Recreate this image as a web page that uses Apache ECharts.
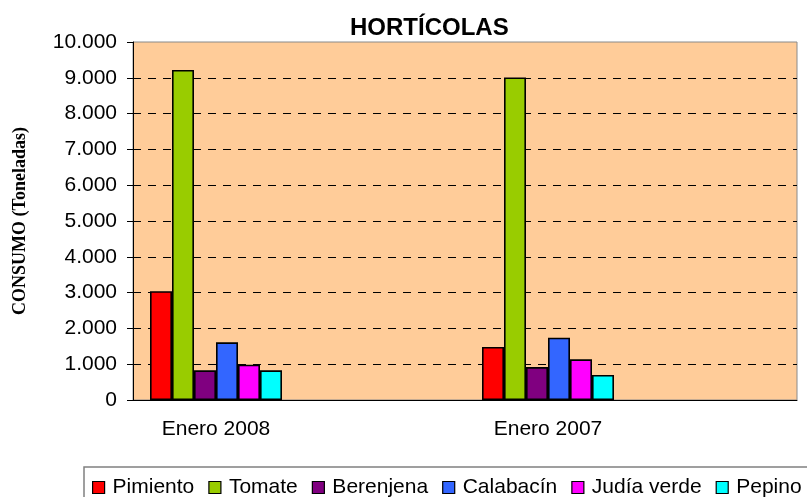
<!DOCTYPE html>
<html>
<head>
<meta charset="utf-8">
<script src="https://cdn.jsdelivr.net/npm/echarts@6/dist/echarts.min.js"></script>
<style>
html,body{margin:0;padding:0;background:#fff;}
#c{width:807px;height:497px;}
</style>
</head>
<body>
<div id="c"></div>
<script>
const categories = ['Enero 2008', 'Enero 2007'];
const seriesNames = ['Pimiento', 'Tomate', 'Berenjena', 'Calabacín', 'Judía verde', 'Pepino'];
const pimiento = [3040, 1480];
const tomate = [9220, 9010];
const berenjena = [830, 920];
const calabacin = [1610, 1740];
const judiaVerde = [985, 1135];
const pepino = [830, 700];
const seriesColors = ['#FF0000', '#99CC00', '#800080', '#3366FF', '#FF00FF', '#00FFFF'];

const allValues = [pimiento, tomate, berenjena, calabacin, judiaVerde, pepino];
// each category is followed by an empty slot (as in the original layout)
const axisCats = categories.flatMap(c => [c, '']);

function fmt(v) {
  return String(v).replace(/\B(?=(\d{3})+(?!\d))/g, '.');
}

const chart = echarts.init(document.getElementById('c'));
chart.setOption({
  animation: false,
  title: {
    text: 'HORTÍCOLAS',
    left: 345,
    top: 11,
    textStyle: {fontFamily: 'Liberation Sans, Arial', fontSize: 24, fontWeight: 'bold', color: '#000'}
  },
  grid: {
    left: 133, top: 42, width: 664, height: 358,
    show: true, backgroundColor: '#FFCC99', borderColor: '#8a8a8a', borderWidth: 1
  },
  legend: {
    left: 84, top: 467, width: 760,
    padding: [10, 8, 10, 8],
    borderColor: '#808080', borderWidth: 1.5,
    itemWidth: 12, itemHeight: 12, itemGap: 14,
    icon: 'rect',
    itemStyle: {borderColor: '#000', borderWidth: 1.2},
    textStyle: {fontFamily: 'Liberation Sans, Arial', fontSize: 21, color: '#000', padding: [0, 0, 0, 3]},
    data: seriesNames
  },
  xAxis: {
    type: 'category',
    data: axisCats,
    axisLine: {lineStyle: {color: '#000', width: 1}},
    axisTick: {show: false},
    axisLabel: {interval: 0, margin: 19, fontFamily: 'Liberation Sans, Arial', fontSize: 21, color: '#000'},
    splitLine: {show: false}
  },
  yAxis: {
    type: 'value',
    min: 0, max: 10000, interval: 1000,
    name: 'CONSUMO (Toneladas)',
    nameLocation: 'middle',
    nameGap: 104,
    nameTextStyle: {fontFamily: 'Liberation Serif, Times New Roman', fontSize: 18, fontWeight: 'bold', color: '#000'},
    axisLine: {show: true, lineStyle: {color: '#000', width: 1}},
    axisTick: {show: true, length: 6, lineStyle: {color: '#000'}},
    axisLabel: {margin: 16, fontFamily: 'Liberation Sans, Arial', fontSize: 21, color: '#000', formatter: fmt},
    splitLine: {show: true, showMinLine: false, showMaxLine: false, lineStyle: {color: '#000', type: [8, 7], width: 1}}
  },
  series: seriesNames.map((n, i) => ({
    name: n,
    type: 'bar',
    barWidth: 22,
    barGap: '0%',
    itemStyle: {color: seriesColors[i], borderColor: '#000', borderWidth: 1.6},
    data: allValues[i].flatMap(v => [v, '-'])
  }))
});
</script>
</body>
</html>
